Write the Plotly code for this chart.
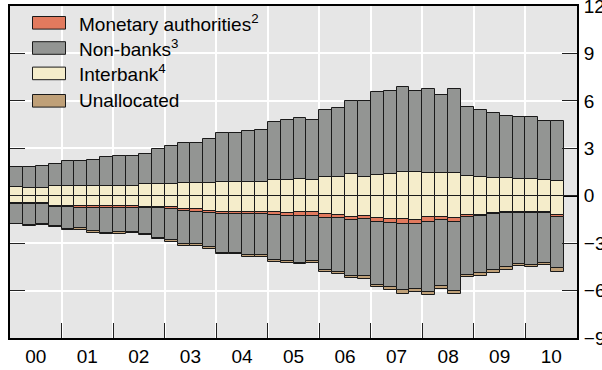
import plotly.graph_objects as go

# ---------------- data (USD trillions) ----------------
years = list(range(2000, 2011))
year_labels = ["00", "01", "02", "03", "04", "05", "06", "07", "08", "09", "10"]
quarters = [f"{y}Q{q}" for y in years for q in (1, 2, 3, 4)][:43]

interbank_pos = [0.52, 0.51, 0.51, 0.63, 0.63, 0.63, 0.63, 0.63, 0.61, 0.61,
                 0.72, 0.76, 0.72, 0.80, 0.80, 0.80, 0.89, 0.89, 0.89, 0.89,
                 1.01, 1.01, 1.03, 1.01, 1.20, 1.16, 1.35, 1.20, 1.31, 1.39,
                 1.48, 1.52, 1.46, 1.42, 1.46, 1.27, 1.20, 1.12, 1.10, 1.06,
                 1.04, 0.97, 0.91]
nonbanks_pos = [1.32, 1.33, 1.37, 1.38, 1.59, 1.57, 1.61, 1.82, 1.93, 1.93,
                1.94, 2.18, 2.41, 2.54, 2.54, 2.78, 3.09, 3.09, 3.19, 3.28,
                3.64, 3.75, 3.91, 3.81, 4.21, 4.38, 4.61, 4.76, 5.22, 5.25,
                5.37, 5.12, 5.29, 4.97, 5.26, 4.34, 4.23, 4.14, 3.95, 3.93,
                3.97, 3.77, 3.83]
interbank_neg = [-0.44, -0.44, -0.44, -0.63, -0.63, -0.63, -0.63, -0.63, -0.63, -0.63,
                 -0.70, -0.70, -0.70, -0.85, -0.87, -0.95, -1.00, -1.00, -1.00, -1.00,
                 -1.06, -1.08, -1.06, -1.06, -1.18, -1.20, -1.33, -1.31, -1.42, -1.46,
                 -1.50, -1.52, -1.37, -1.33, -1.39, -1.25, -1.20, -1.12, -1.06, -1.04,
                 -1.04, -1.04, -1.25]
monetary_neg = [-0.08, -0.06, -0.06, -0.09, -0.10, -0.12, -0.17, -0.13, -0.15, -0.13,
                -0.08, -0.10, -0.15, -0.12, -0.13, -0.13, -0.18, -0.18, -0.18, -0.18,
                -0.19, -0.21, -0.23, -0.23, -0.26, -0.24, -0.21, -0.19, -0.27, -0.27,
                -0.28, -0.28, -0.30, -0.21, -0.28, -0.08, -0.09, -0.06, -0.06, -0.04,
                -0.04, -0.04, -0.12]
nonbanks_neg = [-1.25, -1.35, -1.31, -1.22, -1.37, -1.31, -1.45, -1.60, -1.54, -1.54,
                -1.64, -1.85, -1.97, -2.08, -2.05, -2.16, -2.44, -2.44, -2.59, -2.57,
                -2.82, -2.86, -2.94, -2.84, -3.26, -3.37, -3.51, -3.59, -3.93, -4.04,
                -4.20, -4.12, -4.39, -4.18, -4.37, -3.66, -3.59, -3.51, -3.38, -3.21,
                -3.29, -3.15, -3.23]
unallocated_neg = [-0.05, -0.05, -0.05, -0.07, -0.08, -0.08, -0.08, -0.07, -0.07, -0.07,
                   -0.08, -0.10, -0.10, -0.10, -0.10, -0.10, -0.08, -0.08, -0.10, -0.10,
                   -0.10, -0.10, -0.10, -0.10, -0.12, -0.12, -0.15, -0.15, -0.17, -0.17,
                   -0.23, -0.15, -0.22, -0.15, -0.15, -0.17, -0.17, -0.17, -0.17, -0.17,
                   -0.17, -0.17, -0.20]

y_ticks = [-9, -6, -3, 0, 3, 6, 9, 12]

# ---------------- styling ----------------
C_MON = "#E27A5E"
C_NB = "#939593"
C_IB = "#F5EDCB"
C_UN = "#BFA078"
EDGE = "#1a1a1a"
BG = "#E6E6E6"
FONT = "Liberation Sans, Arial, sans-serif"

W, H = 602, 370
ML, MR, MT, MB = 10, 25, 6, 32
PW, PH = W - ML - MR, H - MT - MB

# numeric x: quarter centres
def qpos(label):
    y, q = label.split("Q")
    return int(y) + (int(q) - 0.5) / 4

xs = [qpos(q) for q in quarters]

fig = go.Figure()

def add(vals, color, name):
    fig.add_trace(go.Bar(
        x=xs, y=vals, width=0.25, name=name, showlegend=False,
        marker=dict(color=color, line=dict(color=EDGE, width=1)),
    ))

add(interbank_pos, C_IB, "Interbank")
add(interbank_neg, C_IB, "Interbank")
add(monetary_neg, C_MON, "Monetary authorities")
add(nonbanks_pos, C_NB, "Non-banks")
add(nonbanks_neg, C_NB, "Non-banks")
add(unallocated_neg, C_UN, "Unallocated")

# ---------------- custom legend (wide swatches) ----------------
def px(x, y):
    return (x - ML) / PW, (H - MB - y) / PH

legend_items = [
    ("Monetary authorities<sup>2</sup>", C_MON, 22.8),
    ("Non-banks<sup>3</sup>", C_NB, 48.0),
    ("Interbank<sup>4</sup>", C_IB, 73.4),
    ("Unallocated", C_UN, 100.8),
]
shapes = []
annotations = []
for text, col, yc in legend_items:
    x0, y0 = px(32.5, yc - 6.3)
    x1, y1 = px(65.5, yc + 6.3)
    shapes.append(dict(type="rect", xref="paper", yref="paper",
                       x0=x0, x1=x1, y0=y1, y1=y0, fillcolor=col,
                       line=dict(color=EDGE, width=1), layer="above"))
    tx, ty = px(76.5, yc)
    annotations.append(dict(xref="paper", yref="paper", x=tx, y=ty,
                            xanchor="left", yanchor="middle", text=text,
                            showarrow=False,
                            font=dict(family=FONT, size=19, color="#000")))

fig.update_layout(
    width=W, height=H,
    margin=dict(l=ML, r=MR, t=MT, b=MB, pad=0),
    paper_bgcolor="white", plot_bgcolor=BG,
    barmode="relative", bargap=0,
    font=dict(family=FONT, size=19, color="#000"),
    showlegend=False,
    shapes=shapes, annotations=annotations,
    xaxis=dict(
        range=[2000, 2011], tickmode="array", automargin=False,
        tickvals=[y + 0.5 for y in years], ticktext=year_labels,
        ticks="", showgrid=False, zeroline=False,
        showline=True, linecolor="#000", linewidth=2, mirror=True,
        minor=dict(tickmode="array", tickvals=years[1:], ticks="inside",
                   ticklen=15, tickwidth=1, tickcolor="#222",
                   showgrid=True, gridcolor="white", gridwidth=1.5),
        tickfont=dict(family=FONT, size=19, color="#000"),
    ),
    yaxis=dict(
        range=[-9, 12], side="right", tickmode="array", tickvals=y_ticks,
        automargin=False, ticklabeloverflow="allow", ticklabelstandoff=1,
        ticks="inside", ticklen=15, tickwidth=1, tickcolor="#222",
        showgrid=True, gridcolor="white", gridwidth=1.5,
        zeroline=True, zerolinecolor="#000", zerolinewidth=2,
        showline=True, linecolor="#000", linewidth=2, mirror="ticks",
        tickfont=dict(family=FONT, size=19, color="#000"),
    ),
)

fig.write_html("out.html")
